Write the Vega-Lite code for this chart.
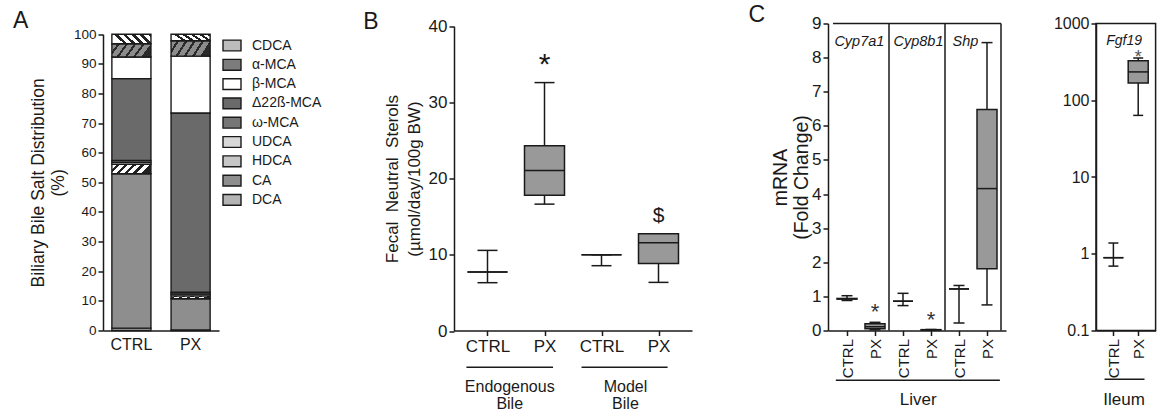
{
  "$schema": "https://vega.github.io/schema/vega-lite/v6.json",
  "padding": {"left": 13, "top": 3.5, "right": 2, "bottom": 2},
  "background": "white",
  "bounds": "flush",
  "spacing": 0,
  "config": {
    "font": "Liberation Sans",
    "view": {"stroke": null},
    "axis": {"domainColor": "#1a1a1a", "domainWidth": 1.5, "tickColor": "#1a1a1a", "tickWidth": 1.5, "labelColor": "#1a1a1a", "titleColor": "#1a1a1a", "grid": false, "titleFontWeight": "normal", "labelFont": "Liberation Sans", "titleFont": "Liberation Sans", "labelFlush": false, "labelOverlap": false},
    "legend": {"labelFont": "Liberation Sans", "labelColor": "#1a1a1a"},
    "text": {"font": "Liberation Sans", "color": "#1a1a1a"},
    "title": {"font": "Liberation Sans", "fontWeight": "normal", "color": "#1a1a1a"}
  },
  "hconcat": [
    {
      "width": 351,
      "height": 307,
      "title": {"text": "A", "anchor": "start", "frame": "group", "fontSize": 23, "baseline": "alphabetic", "offset": 0, "dx": -90, "dy": 27.2},
      "data": {"values": [
        {"group": "CTRL", "acid": "DCA", "percent": 0.8, "rank": 1},
        {"group": "CTRL", "acid": "CA", "percent": 52.1, "rank": 2},
        {"group": "CTRL", "acid": "HDCA", "percent": 3.2, "rank": 3},
        {"group": "CTRL", "acid": "UDCA", "percent": 0.7, "rank": 4},
        {"group": "CTRL", "acid": "ω-MCA", "percent": 0.6, "rank": 5},
        {"group": "CTRL", "acid": "Δ22ß-MCA", "percent": 27.6, "rank": 6},
        {"group": "CTRL", "acid": "β-MCA", "percent": 7.3, "rank": 7},
        {"group": "CTRL", "acid": "α-MCA", "percent": 4.5, "rank": 8},
        {"group": "CTRL", "acid": "CDCA", "percent": 3.2, "rank": 9},
        {"group": "PX", "acid": "DCA", "percent": 0.2, "rank": 1},
        {"group": "PX", "acid": "CA", "percent": 10.5, "rank": 2},
        {"group": "PX", "acid": "HDCA", "percent": 1.0, "rank": 3},
        {"group": "PX", "acid": "UDCA", "percent": 0.6, "rank": 4},
        {"group": "PX", "acid": "ω-MCA", "percent": 0.6, "rank": 5},
        {"group": "PX", "acid": "Δ22ß-MCA", "percent": 60.5, "rank": 6},
        {"group": "PX", "acid": "β-MCA", "percent": 19.2, "rank": 7},
        {"group": "PX", "acid": "α-MCA", "percent": 5.2, "rank": 8},
        {"group": "PX", "acid": "CDCA", "percent": 2.2, "rank": 9}
      ]},
      "mark": {"type": "bar", "stroke": "#1a1a1a", "strokeWidth": 1.4},
      "encoding": {
        "x": {"field": "group", "type": "nominal", "sort": ["CTRL", "PX"], "scale": {"range": [0, 116], "paddingInner": 0.34, "paddingOuter": 0.15}, "axis": {"title": null, "labelAngle": 0, "labelFontSize": 16, "ticks": false, "labelPadding": 6}},
        "y": {"field": "percent", "type": "quantitative", "stack": "zero", "scale": {"domain": [0, 100], "range": [307, 10.7], "nice": false}, "axis": {"values": [0, 10, 20, 30, 40, 50, 60, 70, 80, 90, 100], "title": ["Biliary Bile Salt Distribution", "(%)"], "titleFontSize": 17.5, "titleLineHeight": 20, "labelFontSize": 13.5, "tickSize": 5, "titlePadding": 6}},
        "color": {
          "field": "acid", "type": "nominal",
          "scale": {"domain": ["CDCA", "α-MCA", "β-MCA", "Δ22ß-MCA", "ω-MCA", "UDCA", "HDCA", "CA", "DCA"], "range": ["#bcbcbc", "#7c7c7c", "#ffffff", "#6a6a6a", "#767676", "#d8d8d8", "#c6c6c6", "#8e8e8e", "#b4b4b4"]},
          "condition": [
            {"test": "datum.acid === 'CDCA'", "value": {"gradient": "linear", "x1": 0, "y1": 0.25, "x2": 1, "y2": 0, "stops": [{"offset": 0, "color": "#ffffff"}, {"offset": 0.11, "color": "#ffffff"}, {"offset": 0.11, "color": "#222222"}, {"offset": 0.2, "color": "#222222"}, {"offset": 0.2, "color": "#ffffff"}, {"offset": 0.31, "color": "#ffffff"}, {"offset": 0.31, "color": "#222222"}, {"offset": 0.4, "color": "#222222"}, {"offset": 0.4, "color": "#ffffff"}, {"offset": 0.51, "color": "#ffffff"}, {"offset": 0.51, "color": "#222222"}, {"offset": 0.6, "color": "#222222"}, {"offset": 0.6, "color": "#ffffff"}, {"offset": 0.71, "color": "#ffffff"}, {"offset": 0.71, "color": "#222222"}, {"offset": 0.8, "color": "#222222"}, {"offset": 0.8, "color": "#ffffff"}, {"offset": 0.91, "color": "#ffffff"}, {"offset": 0.91, "color": "#222222"}, {"offset": 1, "color": "#222222"}]}},
            {"test": "datum.acid === 'α-MCA'", "value": {"gradient": "linear", "x1": 0, "y1": 0, "x2": 1, "y2": 0.25, "stops": [{"offset": 0, "color": "#8c8c8c"}, {"offset": 0.14, "color": "#8c8c8c"}, {"offset": 0.14, "color": "#2a2a2a"}, {"offset": 0.2, "color": "#2a2a2a"}, {"offset": 0.2, "color": "#8c8c8c"}, {"offset": 0.34, "color": "#8c8c8c"}, {"offset": 0.34, "color": "#2a2a2a"}, {"offset": 0.4, "color": "#2a2a2a"}, {"offset": 0.4, "color": "#8c8c8c"}, {"offset": 0.54, "color": "#8c8c8c"}, {"offset": 0.54, "color": "#2a2a2a"}, {"offset": 0.6, "color": "#2a2a2a"}, {"offset": 0.6, "color": "#8c8c8c"}, {"offset": 0.74, "color": "#8c8c8c"}, {"offset": 0.74, "color": "#2a2a2a"}, {"offset": 0.8, "color": "#2a2a2a"}, {"offset": 0.8, "color": "#8c8c8c"}, {"offset": 0.94, "color": "#8c8c8c"}, {"offset": 0.94, "color": "#2a2a2a"}, {"offset": 1, "color": "#2a2a2a"}]}},
            {"test": "datum.acid === 'HDCA'", "value": {"gradient": "linear", "x1": 0, "y1": 0, "x2": 1, "y2": 0.25, "stops": [{"offset": 0, "color": "#ffffff"}, {"offset": 0.12, "color": "#ffffff"}, {"offset": 0.12, "color": "#222222"}, {"offset": 0.2, "color": "#222222"}, {"offset": 0.2, "color": "#ffffff"}, {"offset": 0.32, "color": "#ffffff"}, {"offset": 0.32, "color": "#222222"}, {"offset": 0.4, "color": "#222222"}, {"offset": 0.4, "color": "#ffffff"}, {"offset": 0.52, "color": "#ffffff"}, {"offset": 0.52, "color": "#222222"}, {"offset": 0.6, "color": "#222222"}, {"offset": 0.6, "color": "#ffffff"}, {"offset": 0.72, "color": "#ffffff"}, {"offset": 0.72, "color": "#222222"}, {"offset": 0.8, "color": "#222222"}, {"offset": 0.8, "color": "#ffffff"}, {"offset": 0.92, "color": "#ffffff"}, {"offset": 0.92, "color": "#222222"}, {"offset": 1, "color": "#222222"}]}}
          ],
          "legend": {"orient": "none", "legendX": 119, "legendY": 12, "title": null, "symbolType": "M-1,-0.6H1V0.6H-1Z", "symbolSize": 324, "symbolStrokeColor": "#1a1a1a", "symbolStrokeWidth": 1.4, "symbolOpacity": 1, "labelFontSize": 14, "labelOffset": 10, "rowPadding": 0.3, "padding": 0}
        },
        "order": {"field": "rank", "type": "quantitative"}
      }
    },
    {
      "width": 373.7,
      "height": 307,
      "title": {"text": "B", "anchor": "start", "frame": "group", "fontSize": 23, "baseline": "alphabetic", "offset": 0, "dx": -90.7, "dy": 35.2},
      "layer": [
        {
          "data": {"name": "boxB", "values": [
            {"bile": "Endogenous", "grp": "CTRL", "pos": 0.5, "lo": 6.34, "q1": 7.74, "med": 7.74, "q3": 7.74, "hi": 10.58},
            {"bile": "Endogenous", "grp": "PX", "pos": 1.5, "lo": 16.65, "q1": 17.8, "med": 21.07, "q3": 24.3, "hi": 32.6},
            {"bile": "Model", "grp": "CTRL", "pos": 2.5, "lo": 8.57, "q1": 10.0, "med": 10.0, "q3": 10.0, "hi": 10.0},
            {"bile": "Model", "grp": "PX", "pos": 3.5, "lo": 6.38, "q1": 8.87, "med": 11.58, "q3": 12.76, "hi": 12.76}
          ]},
          "layer": [
            {
              "mark": {"type": "rule", "stroke": "#1a1a1a", "strokeWidth": 1.5},
              "encoding": {
                "x": {"field": "pos", "type": "quantitative", "scale": {"domain": [0, 4], "range": [0, 238], "nice": false, "zero": false}, "axis": {"values": [0.5, 1.5, 2.5, 3.5], "labelExpr": "datum.value % 2 < 1 ? 'CTRL' : 'PX'", "title": null, "labelFontSize": 17, "tickSize": 5, "labelPadding": 3, "labelAngle": 0}},
                "y": {"field": "lo", "type": "quantitative", "scale": {"domain": [0, 40], "range": [307.5, 2.7], "nice": false}, "axis": {"values": [0, 10, 20, 30, 40], "title": ["Fecal\u00a0 Neutral\u00a0 Sterols", "(µmol/day/100g BW)"], "titleFontSize": 17, "titleLineHeight": 22, "labelFontSize": 17, "tickSize": 5, "titlePadding": 5, "labelOverlap": false}},
                "y2": {"field": "hi"}
              }
            },
            {"mark": {"type": "tick", "orient": "horizontal", "size": 20, "thickness": 1.5, "color": "#1a1a1a", "opacity": 1}, "encoding": {"x": {"field": "pos", "type": "quantitative"}, "y": {"field": "lo", "type": "quantitative"}}},
            {"mark": {"type": "tick", "orient": "horizontal", "size": 20, "thickness": 1.5, "color": "#1a1a1a", "opacity": 1}, "encoding": {"x": {"field": "pos", "type": "quantitative"}, "y": {"field": "hi", "type": "quantitative"}}},
            {"mark": {"type": "bar", "size": 40, "fill": "#999999", "stroke": "#1a1a1a", "strokeWidth": 1.5}, "encoding": {"x": {"field": "pos", "type": "quantitative"}, "y": {"field": "q1", "type": "quantitative"}, "y2": {"field": "q3"}}},
            {"mark": {"type": "tick", "orient": "horizontal", "size": 40, "thickness": 1.5, "color": "#1a1a1a", "opacity": 1}, "encoding": {"x": {"field": "pos", "type": "quantitative"}, "y": {"field": "med", "type": "quantitative"}}}
          ]
        },
        {
          "data": {"values": [
            {"pos": 1.5, "val": 33.7, "sym": "*"},
            {"pos": 3.5, "val": 14.3, "sym": "$"}
          ]},
          "mark": {"type": "text", "baseline": "alphabetic", "align": "center", "color": "#1a1a1a"},
          "encoding": {
            "x": {"field": "pos", "type": "quantitative"},
            "y": {"field": "val", "type": "quantitative"},
            "text": {"field": "sym"},
            "size": {"condition": {"test": "datum.sym == '*'", "value": 30}, "value": 21}
          }
        },
        {
          "data": {"name": "bracketB", "values": [
            {"lab": ["Endogenous", "Bile"], "from": 0.13, "to": 1.65, "mid": 0.89},
            {"lab": ["Model", "Bile"], "from": 2.15, "to": 3.66, "mid": 2.92}
          ]},
          "layer": [
            {"mark": {"type": "rule", "stroke": "#1a1a1a", "strokeWidth": 1.5}, "encoding": {"x": {"field": "from", "type": "quantitative"}, "x2": {"field": "to"}, "y": {"datum": -4.75, "type": "quantitative"}}},
            {"mark": {"type": "text", "fontSize": 16, "lineHeight": 17, "baseline": "alphabetic", "align": "center"}, "encoding": {"x": {"field": "mid", "type": "quantitative"}, "y": {"datum": -8.03, "type": "quantitative"}, "text": {"field": "lab"}}}
          ]
        }
      ]
    },
    {
      "width": 268,
      "height": 307,
      "title": {"text": "C", "anchor": "start", "frame": "group", "fontSize": 23, "baseline": "alphabetic", "offset": 0, "dx": -79.4, "dy": 30.7},
      "layer": [
        {
          "data": {"name": "boxLiver", "values": [
            {"gene": "Cyp7a1", "grp": "CTRL", "pos": 0.5, "lo": 0.88, "q1": 0.92, "med": 0.93, "q3": 0.94, "hi": 1.02},
            {"gene": "Cyp7a1", "grp": "PX", "pos": 1.5, "lo": 0.02, "q1": 0.05, "med": 0.11, "q3": 0.2, "hi": 0.24},
            {"gene": "Cyp8b1", "grp": "CTRL", "pos": 2.5, "lo": 0.73, "q1": 0.86, "med": 0.86, "q3": 0.86, "hi": 1.09},
            {"gene": "Cyp8b1", "grp": "PX", "pos": 3.5, "lo": 0.01, "q1": 0.015, "med": 0.02, "q3": 0.025, "hi": 0.03},
            {"gene": "Shp", "grp": "CTRL", "pos": 4.5, "lo": 0.22, "q1": 1.22, "med": 1.22, "q3": 1.22, "hi": 1.32},
            {"gene": "Shp", "grp": "PX", "pos": 5.5, "lo": 0.75, "q1": 1.81, "med": 4.16, "q3": 6.48, "hi": 8.44}
          ]},
          "layer": [
            {
              "mark": {"type": "rule", "stroke": "#1a1a1a", "strokeWidth": 1.5},
              "encoding": {
                "x": {"field": "pos", "type": "quantitative", "scale": {"domain": [0, 6], "range": [0, 178], "nice": false, "zero": false}, "axis": {"values": [0.5, 1.5, 2.5, 3.5, 4.5, 5.5], "labelExpr": "datum.value % 2 < 1 ? 'CTRL' : 'PX'", "title": null, "labelFontSize": 15, "tickSize": 5, "labelPadding": 3, "labelAngle": 270, "labelAlign": "right", "labelBaseline": "middle"}},
                "y": {"field": "lo", "type": "quantitative", "scale": {"domain": [0, 9], "nice": false}, "axis": {"values": [0, 1, 2, 3, 4, 5, 6, 7, 8, 9], "tickCount": 10, "labelOverlap": false, "title": ["mRNA", "(Fold Change)"], "titleFontSize": 19.5, "titleLineHeight": 21, "labelFontSize": 17, "tickSize": 5, "titlePadding": 0}},
                "y2": {"field": "hi"}
              }
            },
            {"mark": {"type": "tick", "orient": "horizontal", "size": 11, "thickness": 1.5, "color": "#1a1a1a", "opacity": 1}, "encoding": {"x": {"field": "pos", "type": "quantitative"}, "y": {"field": "lo", "type": "quantitative"}}},
            {"mark": {"type": "tick", "orient": "horizontal", "size": 11, "thickness": 1.5, "color": "#1a1a1a", "opacity": 1}, "encoding": {"x": {"field": "pos", "type": "quantitative"}, "y": {"field": "hi", "type": "quantitative"}}},
            {"mark": {"type": "bar", "size": 20, "fill": "#999999", "stroke": "#1a1a1a", "strokeWidth": 1.5}, "encoding": {"x": {"field": "pos", "type": "quantitative"}, "y": {"field": "q1", "type": "quantitative"}, "y2": {"field": "q3"}}},
            {"mark": {"type": "tick", "orient": "horizontal", "size": 20, "thickness": 1.5, "color": "#1a1a1a", "opacity": 1}, "encoding": {"x": {"field": "pos", "type": "quantitative"}, "y": {"field": "med", "type": "quantitative"}}}
          ]
        },
        {
          "data": {"values": [{"edge": 2}, {"edge": 4}, {"edge": 6}]},
          "mark": {"type": "rule", "stroke": "#1a1a1a", "strokeWidth": 1.5},
          "encoding": {"x": {"field": "edge", "type": "quantitative"}}
        },
        {
          "data": {"values": [{"left": 0, "right": 6, "top": 9}]},
          "mark": {"type": "rule", "stroke": "#1a1a1a", "strokeWidth": 1.5},
          "encoding": {"x": {"field": "left", "type": "quantitative"}, "x2": {"field": "right"}, "y": {"field": "top", "type": "quantitative", "axis": {"values": [0, 1, 2, 3, 4, 5, 6, 7, 8, 9], "labelOverlap": false}}}
        },
        {
          "data": {"values": [{"pos": 1.5, "val": 0.35}, {"pos": 3.5, "val": 0.11}]},
          "mark": {"type": "text", "text": "*", "fontSize": 22, "baseline": "alphabetic", "align": "center", "color": "#333333"},
          "encoding": {"x": {"field": "pos", "type": "quantitative"}, "y": {"field": "val", "type": "quantitative", "axis": {"values": [0, 1, 2, 3, 4, 5, 6, 7, 8, 9], "labelOverlap": false}}}
        },
        {
          "data": {"values": [{"gene": "Cyp7a1", "pos": 0.05}, {"gene": "Cyp8b1", "pos": 2.16}, {"gene": "Shp", "pos": 4.27}]},
          "mark": {"type": "text", "fontSize": 14.5, "fontStyle": "italic", "baseline": "alphabetic", "align": "left"},
          "encoding": {"x": {"field": "pos", "type": "quantitative"}, "y": {"datum": 8.35, "type": "quantitative"}, "text": {"field": "gene"}}
        },
        {
          "data": {"values": [{"organ": "Liver", "from": 0.1, "to": 5.96, "mid": 3.04}]},
          "layer": [
            {"mark": {"type": "rule", "stroke": "#1a1a1a", "strokeWidth": 1.5}, "encoding": {"x": {"field": "from", "type": "quantitative"}, "x2": {"field": "to"}, "y": {"datum": -1.457, "type": "quantitative"}}},
            {"mark": {"type": "text", "fontSize": 17, "baseline": "alphabetic", "align": "center"}, "encoding": {"x": {"field": "mid", "type": "quantitative"}, "y": {"datum": -2.19, "type": "quantitative"}, "text": {"field": "organ"}}}
          ]
        }
      ]
    },
    {
      "width": 59.6,
      "height": 307,
      "view": {"stroke": "#1a1a1a", "strokeWidth": 1.5},
      "layer": [
        {
          "data": {"name": "boxIleum", "values": [
            {"gene": "Fgf19", "grp": "CTRL", "pos": 0.5, "lo": 0.69, "q1": 0.89, "med": 0.89, "q3": 0.89, "hi": 1.38},
            {"gene": "Fgf19", "grp": "PX", "pos": 1.5, "lo": 63.5, "q1": 168, "med": 234, "q3": 328, "hi": 355}
          ]},
          "layer": [
            {
              "mark": {"type": "rule", "stroke": "#1a1a1a", "strokeWidth": 1.5},
              "encoding": {
                "x": {"field": "pos", "type": "quantitative", "scale": {"domain": [0, 2], "nice": false, "zero": false}, "axis": {"values": [0.5, 1.5], "labelExpr": "datum.value % 2 < 1 ? 'CTRL' : 'PX'", "title": null, "labelFontSize": 15, "tickSize": 5, "labelPadding": 3, "labelAngle": 270, "labelAlign": "right", "labelBaseline": "middle"}},
                "y": {"field": "lo", "type": "quantitative", "scale": {"type": "log", "domain": [0.1, 1000], "nice": false}, "axis": {"values": [0.1, 1, 10, 100, 1000], "format": "~g", "title": null, "labelFontSize": 16, "tickSize": 5, "labelOverlap": false}},
                "y2": {"field": "hi"}
              }
            },
            {"mark": {"type": "tick", "orient": "horizontal", "size": 10, "thickness": 1.5, "color": "#1a1a1a", "opacity": 1}, "encoding": {"x": {"field": "pos", "type": "quantitative"}, "y": {"field": "lo", "type": "quantitative"}}},
            {"mark": {"type": "tick", "orient": "horizontal", "size": 10, "thickness": 1.5, "color": "#1a1a1a", "opacity": 1}, "encoding": {"x": {"field": "pos", "type": "quantitative"}, "y": {"field": "hi", "type": "quantitative"}}},
            {"mark": {"type": "bar", "size": 20, "fill": "#999999", "stroke": "#1a1a1a", "strokeWidth": 1.5}, "encoding": {"x": {"field": "pos", "type": "quantitative"}, "y": {"field": "q1", "type": "quantitative"}, "y2": {"field": "q3"}}},
            {"mark": {"type": "tick", "orient": "horizontal", "size": 20, "thickness": 1.5, "color": "#1a1a1a", "opacity": 1}, "encoding": {"x": {"field": "pos", "type": "quantitative"}, "y": {"field": "med", "type": "quantitative"}}}
          ]
        },
        {
          "data": {"values": [{"pos": 1.5, "val": 304}]},
          "mark": {"type": "text", "text": "*", "fontSize": 18, "baseline": "alphabetic", "align": "center", "color": "#555555"},
          "encoding": {"x": {"field": "pos", "type": "quantitative"}, "y": {"field": "val", "type": "quantitative"}}
        },
        {
          "data": {"values": [{"gene": "Fgf19", "pos": 0.93}]},
          "mark": {"type": "text", "fontSize": 14, "fontStyle": "italic", "baseline": "alphabetic", "align": "center"},
          "encoding": {"x": {"field": "pos", "type": "quantitative"}, "y": {"datum": 521, "type": "quantitative"}, "text": {"field": "gene"}}
        },
        {
          "data": {"values": [{"organ": "Ileum", "from": 0.144, "to": 1.755, "mid": 0.93}]},
          "layer": [
            {"mark": {"type": "rule", "stroke": "#1a1a1a", "strokeWidth": 1.5}, "encoding": {"x": {"field": "from", "type": "quantitative"}, "x2": {"field": "to"}, "y": {"datum": 0.0232, "type": "quantitative"}}},
            {"mark": {"type": "text", "fontSize": 17, "baseline": "alphabetic", "align": "center"}, "encoding": {"x": {"field": "mid", "type": "quantitative"}, "y": {"datum": 0.01064, "type": "quantitative"}, "text": {"field": "organ"}}}
          ]
        }
      ]
    }
  ]
}
